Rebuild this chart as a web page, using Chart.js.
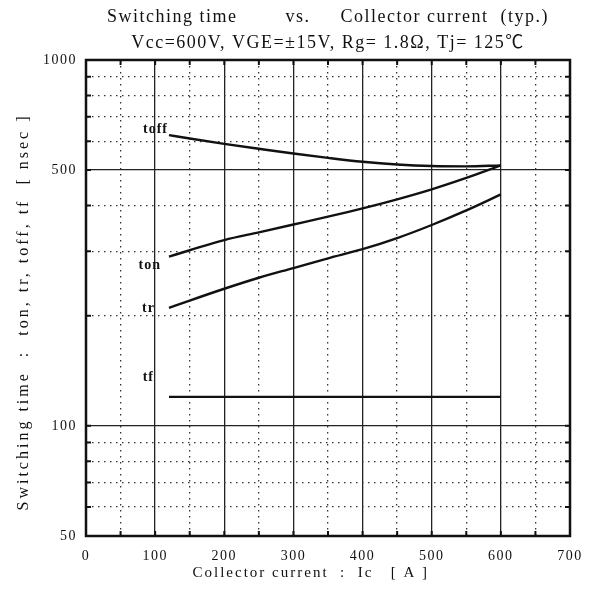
<!DOCTYPE html>
<html>
<head>
<meta charset="utf-8">
<script src="https://cdn.jsdelivr.net/npm/chart.js@4/dist/chart.umd.min.js"></script>
<style>
  html, body { margin: 0; padding: 0; background: #fff; }
  #wrap { width: 597px; height: 597px; }
</style>
</head>
<body>
<div id="wrap"><canvas id="c" width="597" height="597"></canvas></div>
<script>
// ---- data ----
const currentA = [120, 150, 200, 250, 300, 350, 400, 450, 500, 550, 600];
const toffNs   = [623, 610, 590, 572, 555, 540, 527, 518, 513, 512, 515];
const tonNs    = [290, 302, 322, 338, 355, 373, 393, 416, 443, 476, 515];
const trNs     = [210, 220, 237, 254, 270, 287, 304, 326, 354, 388, 429];
const tfNs     = [120, 120, 120, 120, 120, 120, 120, 120, 120, 120, 120];
const seriesNames = ['toff', 'ton', 'tr', 'tf'];

const xMajorTicks = [0, 100, 200, 300, 400, 500, 600, 700];
const xMinorTicks = [50, 150, 250, 350, 450, 550, 650];
const yLabelTicks = [50, 100, 500, 1000];
const yMinorTicks = [60, 70, 80, 90, 200, 300, 400, 600, 700, 800, 900];

const titleLines = ['Switching time        vs.     Collector current  (typ.)',
                    'Vcc=600V, VGE=±15V, Rg= 1.8Ω, Tj= 125℃'];
const xTitle = 'Collector current  :  Ic   [ A ]      ';
const yTitle = 'Switching time  :  ton, tr, toff, tf  [ nsec ]    ';

// ---- styles ----
const FONT = '"Liberation Serif", "Noto Sans CJK JP", serif';
const INK = '#111';
const labelOffsets = { toff: [-1, -6], ton: [-8, 9], tr: [-14, 0], tf: [-15, -19] };

const seriesValues = [toffNs, tonNs, trNs, tfNs];
const datasets = seriesNames.map((name, i) => ({
  label: name,
  data: currentA.map((x, j) => ({ x: x, y: seriesValues[i][j] })),
  borderColor: INK,
  borderWidth: 2.4,
  pointRadius: 0,
  fill: false,
  cubicInterpolationMode: 'monotone',
  xAxisID: 'x',
  yAxisID: 'y'
}));

function withSpacing(obj, method, spacing) {
  if (!obj || obj['__sp_' + method]) return;
  const orig = obj[method];
  obj[method] = function () {
    const c = this.ctx;
    const prev = c.letterSpacing;
    c.letterSpacing = spacing;
    const r = orig.apply(this, arguments);
    c.letterSpacing = prev;
    return r;
  };
  obj['__sp_' + method] = true;
}

const spacingPlugin = {
  id: 'spacing',
  beforeUpdate(chart) { chart.ctx.letterSpacing = '1.5px'; },
  afterUpdate(chart) {
    withSpacing(chart.scales.y, 'drawTitle', '3px');
    withSpacing(chart.scales.x, 'drawTitle', '2px');
  },
  beforeDraw(chart) { chart.ctx.letterSpacing = '1.5px'; }
};

const framePlugin = {
  id: 'frame',
  afterDatasetsDraw(chart) {
    const ctx = chart.ctx;
    const a = chart.chartArea;
    const xs = chart.scales.x, ys = chart.scales.y;
    ctx.save();
    ctx.strokeStyle = INK;
    // inner tick marks
    ctx.lineWidth = 2;
    xMinorTicks.concat(xMajorTicks.slice(1, -1)).forEach(v => {
      const px = xs.getPixelForValue(v);
      ctx.beginPath();
      ctx.moveTo(px, a.bottom); ctx.lineTo(px, a.bottom - 5);
      ctx.moveTo(px, a.top); ctx.lineTo(px, a.top + 5);
      ctx.stroke();
    });
    yMinorTicks.concat([100, 500]).forEach(v => {
      const py = ys.getPixelForValue(v);
      ctx.beginPath();
      ctx.moveTo(a.left, py); ctx.lineTo(a.left + 5, py);
      ctx.moveTo(a.right, py); ctx.lineTo(a.right - 5, py);
      ctx.stroke();
    });
    // frame
    ctx.lineWidth = 2.5;
    ctx.strokeRect(a.left, a.top, a.right - a.left, a.bottom - a.top);
    // series labels
    ctx.fillStyle = INK;
    ctx.font = 'bold 14px ' + FONT;
    ctx.letterSpacing = '1px';
    ctx.textAlign = 'right';
    ctx.textBaseline = 'middle';
    chart.data.datasets.forEach((ds, i) => {
      const p = chart.getDatasetMeta(i).data[0];
      const off = labelOffsets[ds.label];
      ctx.fillText(ds.label, p.x + off[0], p.y + off[1]);
    });
    ctx.restore();
  }
};

const chart = new Chart(document.getElementById('c'), {
  type: 'line',
  data: { datasets: datasets },
  plugins: [spacingPlugin, framePlugin],
  options: {
    responsive: false,
    animation: false,
    layout: { padding: { left: 0, right: 27, top: 0, bottom: 0 } },
    plugins: {
      legend: { display: false },
      tooltip: { enabled: false },
      title: {
        display: true,
        fullSize: false,
        text: titleLines,
        color: INK,
        font: { family: FONT, size: 18, weight: 'normal', lineHeight: 1.444 },
        padding: { top: 4, bottom: 4 }
      }
    },
    scales: {
      x: {
        type: 'linear',
        position: 'bottom',
        min: 0, max: 700,
        afterBuildTicks(s) { s.ticks = xMajorTicks.map(v => ({ value: v })); },
        afterFit(s) { s.height = 61; },
        ticks: { color: INK, font: { family: FONT, size: 14 }, padding: 12, maxRotation: 0,
                 callback: v => String(v) },
        grid: { color: '#222', lineWidth: 1.3, drawTicks: false },
        border: { display: false },
        title: { display: true, text: xTitle, color: INK,
                 font: { family: FONT, size: 15 }, padding: { top: 0, bottom: 15 } }
      },
      xd: {
        type: 'linear',
        position: 'bottom',
        min: 0, max: 700,
        afterBuildTicks(s) { s.ticks = xMinorTicks.map(v => ({ value: v })); },
        afterFit(s) { s.height = 0; },
        ticks: { display: false },
        grid: { color: '#333', lineWidth: 1.3, drawTicks: false },
        border: { display: false, dash: [1.5, 4.5] }
      },
      y: {
        type: 'logarithmic',
        position: 'left',
        min: 50, max: 1000,
        afterBuildTicks(s) { s.ticks = yLabelTicks.map(v => ({ value: v })); },
        afterFit(s) { s.width = 86; },
        ticks: { color: INK, font: { family: FONT, size: 14 }, padding: 9,
                 callback: v => String(v) },
        grid: { color: '#222', lineWidth: 1.3, drawTicks: false },
        border: { display: false },
        title: { display: true, text: yTitle, color: INK,
                 font: { family: FONT, size: 16 }, padding: { top: 14, bottom: 0 } }
      },
      yd: {
        type: 'logarithmic',
        position: 'left',
        min: 50, max: 1000,
        afterBuildTicks(s) { s.ticks = yMinorTicks.map(v => ({ value: v })); },
        afterFit(s) { s.width = 0; },
        ticks: { display: false },
        grid: { color: '#333', lineWidth: 1.3, drawTicks: false },
        border: { display: false, dash: [1.5, 4.5] }
      }
    }
  }
});
chart.draw();
</script>
</body>
</html>
